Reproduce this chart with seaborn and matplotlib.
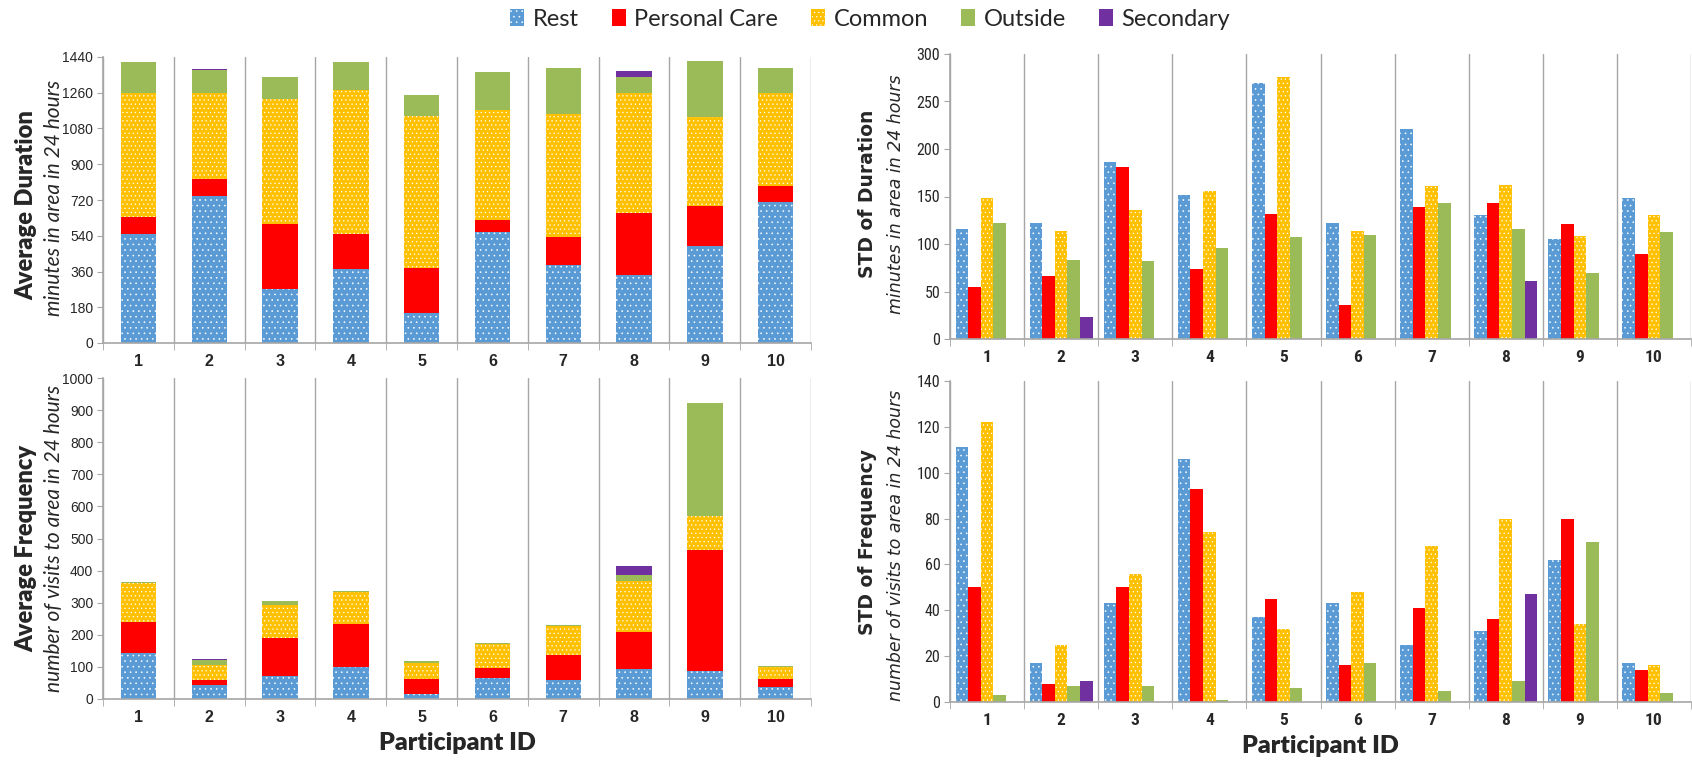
import numpy as np
import pandas as pd
import seaborn as sns
import matplotlib.pyplot as plt
from matplotlib import font_manager
from matplotlib.patches import Patch

sns.set_style("white")
plt.rcParams['hatch.linewidth'] = 0.4

participants = ['1', '2', '3', '4', '5', '6', '7', '8', '9', '10']
areas = ['Rest', 'Personal Care', 'Common', 'Outside', 'Secondary']
colors = ['#5B9BD5', '#FF0000', '#FFC000', '#9BBB59', '#7030A0']
hatches = ['...', None, '....', None, None]

# average duration (minutes in area in 24 hours)
avg_dur_rest = [549, 740, 273, 373, 151, 559, 395, 343, 486, 710]
avg_dur_care = [84, 84, 328, 174, 227, 62, 137, 313, 205, 82]
avg_dur_common = [628, 437, 630, 725, 767, 554, 623, 601, 449, 465]
avg_dur_outside = [154, 112, 108, 143, 106, 191, 228, 84, 281, 126]
avg_dur_secondary = [0, 8, 0, 0, 0, 0, 0, 27, 0, 0]

# std of duration
std_dur_rest = [116, 122, 186, 152, 269, 122, 221, 131, 105, 148]
std_dur_care = [55, 66, 181, 74, 132, 36, 139, 143, 121, 89]
std_dur_common = [148, 114, 136, 156, 276, 114, 161, 162, 108, 131]
std_dur_outside = [122, 83, 82, 96, 107, 110, 143, 116, 69, 113]
std_dur_secondary = [0, 23, 0, 0, 0, 0, 0, 61, 0, 0]

# average frequency (visits to area in 24 hours)
avg_freq_rest = [144, 43, 72, 101, 17, 66, 58, 95, 88, 38]
avg_freq_care = [95, 17, 117, 132, 44, 30, 79, 113, 375, 23]
avg_freq_common = [122, 45, 105, 100, 51, 75, 90, 161, 107, 38]
avg_freq_outside = [4, 15, 12, 3, 6, 4, 4, 18, 351, 5]
avg_freq_secondary = [0, 6, 0, 0, 0, 0, 0, 28, 0, 0]

# std of frequency
std_freq_rest = [111, 17, 43, 106, 37, 43, 25, 31, 62, 17]
std_freq_care = [50, 8, 50, 93, 45, 16, 41, 36, 80, 14]
std_freq_common = [122, 25, 56, 74, 32, 48, 68, 80, 34, 16]
std_freq_outside = [3, 7, 7, 1, 6, 17, 5, 9, 70, 4]
std_freq_secondary = [0, 9, 0, 0, 0, 0, 0, 47, 0, 0]

GRAY = '#A6A6A6'


def pick_narrow():
    fonts = font_manager.fontManager.ttflist
    names = {f.name for f in fonts}
    for n in ['Liberation Sans Narrow', 'Arial Narrow', 'Roboto Condensed',
              'Open Sans Condensed', 'Noto Sans Condensed', 'DejaVu Sans Condensed']:
        if n in names:
            return {'family': n}
    for n in ['Noto Sans', 'Open Sans', 'DejaVu Sans', 'Roboto', 'Liberation Sans']:
        for f in fonts:
            if f.name == n and str(f.stretch) in ('condensed', 'semi-condensed', '75', '87.5'):
                return {'family': n, 'stretch': 'condensed'}
    return {'family': 'Liberation Sans'}


NARROW = pick_narrow()
ARIAL = {'family': 'Liberation Sans'}
LATO = {'family': 'Lato'}


def long_df(series):
    rows = []
    for area, vals in zip(areas, series):
        for p, v in zip(participants, vals):
            rows.append((p, area, v))
    return pd.DataFrame(rows, columns=['participant', 'area', 'value'])


def style_axis(ax, ymax, ystep, tick_kw, tick_size, xlab_kw, xlab_size):
    ax.set_ylim(0, ymax)
    ax.set_xlim(-0.5, 9.5)
    ax.set_yticks(np.arange(0, ymax + 1, ystep))
    ax.set_xticks(range(10))
    ax.set_xticklabels(participants, fontsize=xlab_size, fontweight='bold', **xlab_kw)
    ax.set_yticklabels([str(v) for v in np.arange(0, ymax + 1, ystep)], fontsize=tick_size, **tick_kw)
    ax.set_xticks(np.arange(-0.5, 10, 1), minor=True)
    ax.tick_params(axis='x', which='major', length=0, pad=8)
    ax.tick_params(axis='x', which='minor', length=5, color=GRAY, direction='out', bottom=True)
    ax.tick_params(axis='y', length=4, color=GRAY, direction='out', left=True, pad=3)
    ax.grid(False)
    ax.xaxis.grid(True, which='minor', color=GRAY, linewidth=1)
    for s in ['top', 'right']:
        ax.spines[s].set_visible(False)
    for s in ['left', 'bottom']:
        ax.spines[s].set_color(GRAY)
        ax.spines[s].set_linewidth(1.2)
    ax.set_xlabel('')
    ax.set_ylabel('')
    ax.set_axisbelow(True)


def stacked(ax, series):
    cum = np.cumsum(np.array(series, dtype=float), axis=0)
    for i in range(len(areas) - 1, -1, -1):
        d = pd.DataFrame({'participant': participants, 'value': cum[i]})
        sns.barplot(data=d, x='participant', y='value', order=participants, color=colors[i],
                    saturation=1, width=0.5, errorbar=None, ax=ax,
                    hatch=hatches[i], edgecolor='white', linewidth=0)


def grouped(ax, series):
    df = long_df(series)
    sns.barplot(data=df, x='participant', y='value', hue='area', order=participants,
                hue_order=areas, palette=colors, saturation=1, width=0.85, errorbar=None,
                ax=ax, edgecolor='white', linewidth=0, legend=False)
    for cont, h in zip(ax.containers, hatches):
        for p in cont:
            p.set_hatch(h)


fig = plt.figure(figsize=(16.92, 7.63), dpi=100)
ax_tl = fig.add_axes([103 / 1692, 1 - 343 / 763, 708 / 1692, 286 / 763])
ax_bl = fig.add_axes([103 / 1692, 1 - 699 / 763, 708 / 1692, 321 / 763])
ax_tr = fig.add_axes([950 / 1692, 1 - 339 / 763, 741 / 1692, 285 / 763])
ax_br = fig.add_axes([950 / 1692, 1 - 702 / 763, 741 / 1692, 321 / 763])

stacked(ax_tl, [avg_dur_rest, avg_dur_care, avg_dur_common, avg_dur_outside, avg_dur_secondary])
stacked(ax_bl, [avg_freq_rest, avg_freq_care, avg_freq_common, avg_freq_outside, avg_freq_secondary])
grouped(ax_tr, [std_dur_rest, std_dur_care, std_dur_common, std_dur_outside, std_dur_secondary])
grouped(ax_br, [std_freq_rest, std_freq_care, std_freq_common, std_freq_outside, std_freq_secondary])

style_axis(ax_tl, 1440, 180, ARIAL, 10, ARIAL, 11.5)
style_axis(ax_bl, 1000, 100, ARIAL, 10, ARIAL, 11.5)
style_axis(ax_tr, 300, 50, NARROW, 11.5, NARROW, 12.5)
style_axis(ax_br, 140, 20, NARROW, 11.5, NARROW, 12.5)

for ax in [ax_bl, ax_br]:
    ax.set_xlabel('Participant ID', fontweight='heavy', fontsize=18, labelpad=5, **LATO)

# y axis titles (two styles)
fig.text(26 / 1692, 1 - 205 / 763, 'Average Duration', rotation=90, ha='center', va='center',
         fontweight='heavy', fontsize=17, **LATO)
fig.text(54 / 1692, 1 - 198 / 763, 'minutes in area in 24 hours', rotation=90, ha='center',
         va='center', style='italic', fontsize=15, **LATO)
fig.text(26 / 1692, 1 - 548 / 763, 'Average Frequency', rotation=90, ha='center', va='center',
         fontweight='heavy', fontsize=17, **LATO)
fig.text(54 / 1692, 1 - 538 / 763, 'number of visits to area in 24 hours', rotation=90,
         ha='center', va='center', style='italic', fontsize=15, **LATO)
fig.text(867 / 1692, 1 - 194 / 763, 'STD of Duration', rotation=90, ha='center', va='center',
         family='DejaVu Sans', fontweight='bold', fontsize=13.5)
fig.text(896 / 1692, 1 - 194 / 763, 'minutes in area in 24 hours', rotation=90, ha='center',
         va='center', family='DejaVu Sans', style='italic', fontsize=12.5)
fig.text(867 / 1692, 1 - 542 / 763, 'STD of Frequency', rotation=90, ha='center', va='center',
         family='DejaVu Sans', fontweight='bold', fontsize=13.5)
fig.text(896 / 1692, 1 - 545 / 763, 'number of visits to area in 24 hours', rotation=90,
         ha='center', va='center', family='DejaVu Sans', style='italic', fontsize=12.5)

handles = [Patch(facecolor=c, hatch=h, edgecolor='white', linewidth=0) for c, h in zip(colors, hatches)]
leg = fig.legend(handles, areas, loc='center', bbox_to_anchor=(870 / 1692, 1 - 19 / 763), ncol=5,
                 frameon=False, prop=dict(size=17, **LATO), handlelength=0.6,
                 handleheight=0.75, handletextpad=0.35, columnspacing=1.4)

fig.savefig('out.png', dpi=100)
